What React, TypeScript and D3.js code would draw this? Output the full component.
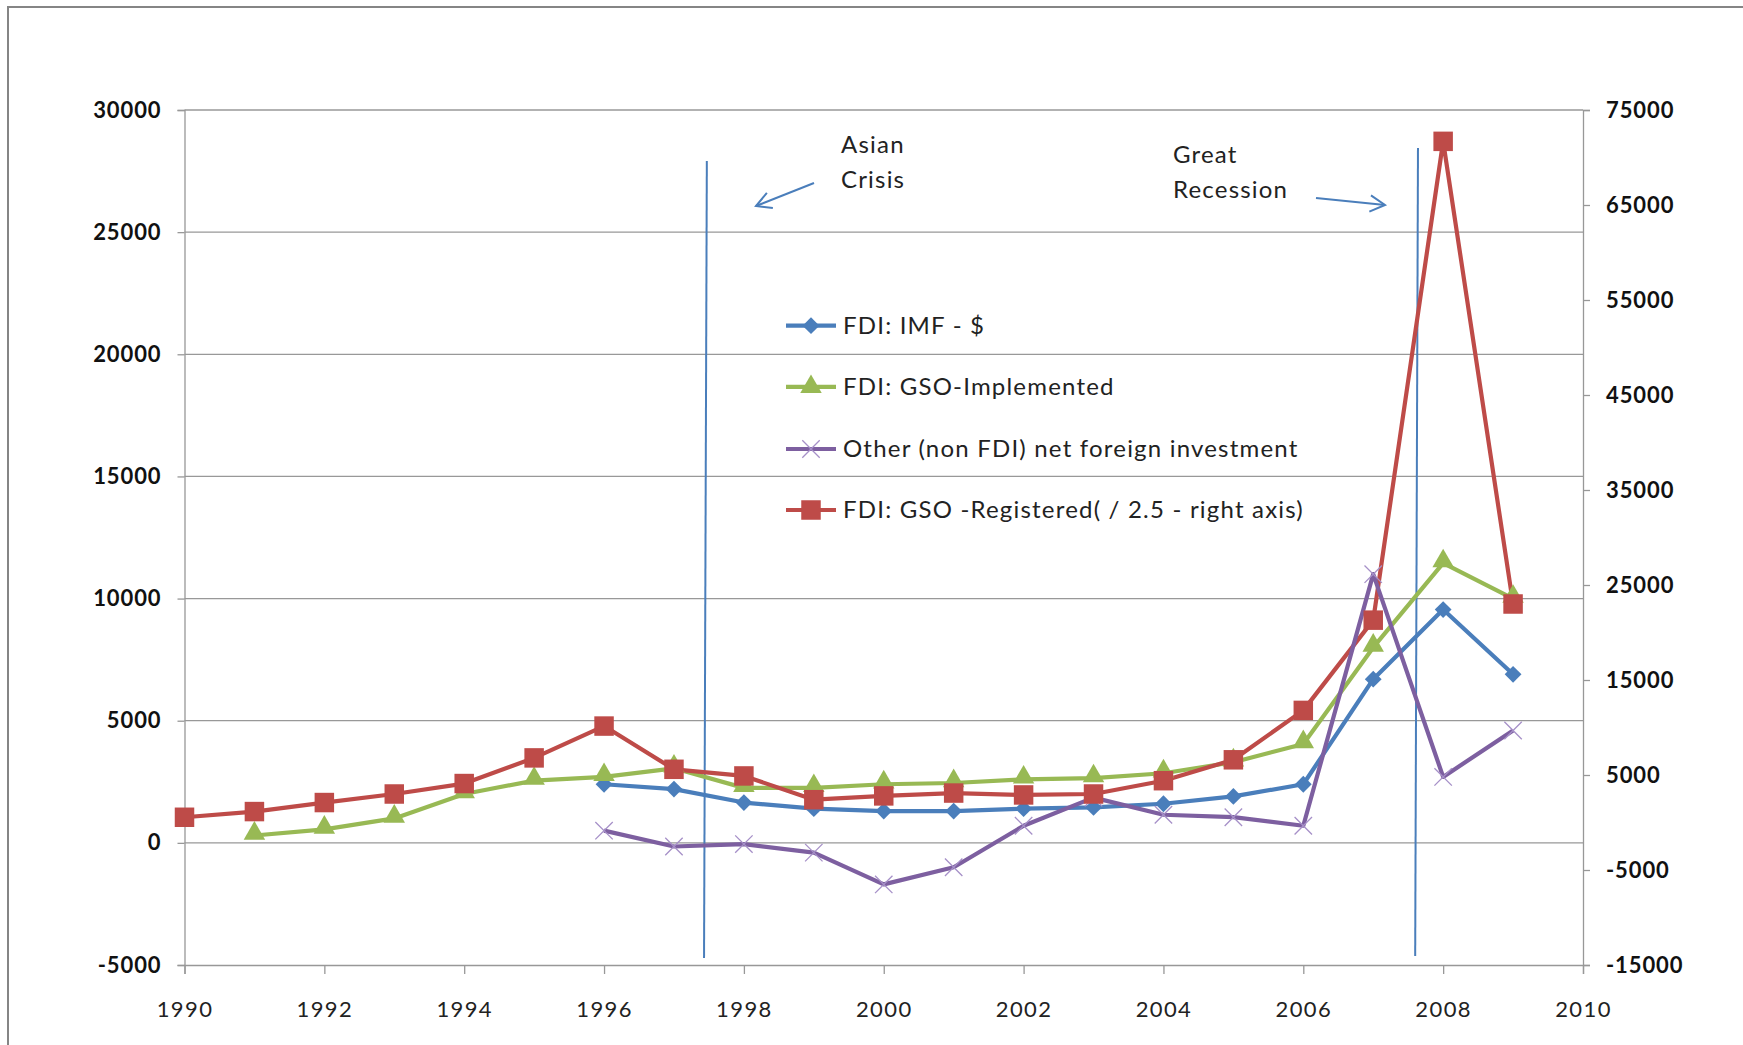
import React, { useEffect, useRef } from 'react'
import * as d3 from 'd3'

// years for each series
const yearsAll = d3.range(1990, 2010)
const imfYears = d3.range(1996, 2010)
const implYears = d3.range(1991, 2010)
const otherYears = d3.range(1996, 2010)

// FDI: IMF - $ (left axis)
const imfValues = [2400, 2200, 1650, 1400, 1300, 1300, 1400, 1450, 1600, 1900, 2400, 6700, 9550, 6900]
// FDI: GSO-Implemented (left axis)
const implValues = [300, 550, 1000, 2000, 2550, 2700, 3050, 2250, 2250, 2400, 2450, 2600, 2650, 2850, 3300, 4050, 8000, 11450, 10000]
// Other (non FDI) net foreign investment (left axis)
const otherValues = [500, -150, -50, -400, -1700, -1000, 700, 1850, 1150, 1050, 700, 11000, 2700, 4600]
// FDI: GSO -Registered (right axis)
const regValues = [550, 1150, 2100, 3000, 4100, 6800, 10150, 5600, 4900, 2400, 2800, 3100, 2900, 3000, 4400, 6600, 11800, 21300, 71700, 23000]

const leftTicks = [-5000, 0, 5000, 10000, 15000, 20000, 25000, 30000]
const rightTicks = [-15000, -5000, 5000, 15000, 25000, 35000, 45000, 55000, 65000, 75000]
const xTicks = [1990, 1992, 1994, 1996, 1998, 2000, 2002, 2004, 2006, 2008, 2010]

const legendLabels = ['FDI: IMF - $', 'FDI: GSO-Implemented', 'Other (non FDI) net foreign investment', 'FDI: GSO -Registered( / 2.5 - right axis)']

export default function App() {
  const ref = useRef<SVGSVGElement | null>(null)

  useEffect(() => {
    if (!ref.current) return
    const svg = d3.select(ref.current)
    svg.selectAll('*').remove()

    const width = 1743, height = 1045
    const left = 184.5, right = 1583, top = 110, bottom = 965
    const font = 'Lato, Carlito, Calibri, sans-serif'
    const fmt = (d: any) => String(d)

    const x = d3.scaleLinear().domain([1990, 2010]).range([left, right])
    const yL = d3.scaleLinear().domain([-5000, 30000]).range([bottom, top])
    const yR = d3.scaleLinear().domain([-15000, 75000]).range([bottom, top])

    svg.attr('width', width).attr('height', height)
    svg.append('rect').attr('width', width).attr('height', height).attr('fill', '#fff')
    // outer frame
    svg.append('rect').attr('x', 8).attr('y', 7).attr('width', width + 20).attr('height', height + 20)
      .attr('fill', 'none').attr('stroke', '#858585').attr('stroke-width', 2)

    // gridlines
    svg.append('g').selectAll('line').data(leftTicks.filter(t => t !== -5000)).enter().append('line')
      .attr('x1', left).attr('x2', right).attr('y1', d => yL(d)).attr('y2', d => yL(d))
      .attr('stroke', '#989898').attr('stroke-width', 1.3)

    // left axis
    const gl = svg.append('g').attr('transform', `translate(${left},0)`)
      .call(d3.axisLeft(yL).tickValues(leftTicks).tickSize(7).tickPadding(16).tickFormat(fmt))
    gl.select('.domain').attr('stroke', '#989898').attr('stroke-width', 1.3)
    gl.selectAll('.tick line').attr('stroke', '#989898').attr('stroke-width', 1.3)
    gl.selectAll('.tick text').attr('font-family', font).attr('font-size', 22).attr('font-weight', 'bold')
      .attr('letter-spacing', 0.9).attr('fill', '#111')

    // right axis
    const gr = svg.append('g').attr('transform', `translate(${right},0)`)
      .call(d3.axisRight(yR).tickValues(rightTicks).tickSize(7).tickPadding(16).tickFormat(fmt))
    gr.select('.domain').attr('stroke', '#989898').attr('stroke-width', 1.3)
    gr.selectAll('.tick line').attr('stroke', '#989898').attr('stroke-width', 1.3)
    gr.selectAll('.tick text').attr('font-family', font).attr('font-size', 22).attr('font-weight', 'bold')
      .attr('letter-spacing', 0.9).attr('fill', '#111')

    // bottom axis
    const gb = svg.append('g').attr('transform', `translate(0,${bottom})`)
      .call(d3.axisBottom(x).tickValues(xTicks).tickSize(9).tickPadding(27).tickFormat(fmt))
    gb.select('.domain').attr('stroke', '#989898').attr('stroke-width', 1.3)
    gb.selectAll('.tick line').attr('stroke', '#989898').attr('stroke-width', 1.3)
    gb.selectAll('.tick text').attr('font-family', font).attr('font-size', 22).attr('letter-spacing', 1.4).attr('fill', '#222')

    const blue = '#4A7EBB', green = '#98B954', purple = '#7D5FA0', red = '#BE4B48'

    const drawLine = (xs: number[], vs: number[], ys: d3.ScaleLinear<number, number>, color: string) => {
      const pts = xs.map((yr, i) => [x(yr), ys(vs[i])] as [number, number])
      svg.append('path').attr('d', d3.line()(pts)).attr('fill', 'none').attr('stroke', color)
        .attr('stroke-width', 4.2).attr('stroke-linejoin', 'round')
      return pts
    }

    const diamond = d3.symbol().type(d3.symbolDiamond2).size(180)
    const triangle = d3.symbol().type(d3.symbolTriangle).size(200)
    const square = d3.symbol().type(d3.symbolSquare).size(380)
    const cross = d3.symbol().type(d3.symbolX).size(200)

    const markers = (pts: [number, number][], path: string | null, fill: string, stroke?: string, sw = 0) => {
      svg.append('g').selectAll('path').data(pts).enter().append('path')
        .attr('d', path)
        .attr('transform', d => `translate(${d[0]},${d[1]})`)
        .attr('fill', stroke ? 'none' : fill)
        .attr('stroke', stroke || 'none').attr('stroke-width', sw)
    }

    // annotation vertical lines
    const annoColor = '#4A7EBB'
    svg.append('line').attr('x1', x(1997.47)).attr('y1', 161).attr('x2', x(1997.43)).attr('y2', 958)
      .attr('stroke', annoColor).attr('stroke-width', 2)
    svg.append('line').attr('x1', x(2007.64)).attr('y1', 148).attr('x2', x(2007.6)).attr('y2', 956)
      .attr('stroke', annoColor).attr('stroke-width', 2)

    const ptsI = drawLine(implYears, implValues, yL, green)
    const ptsB = drawLine(imfYears, imfValues, yL, blue)
    const ptsR = drawLine(yearsAll, regValues, yR, red)
    const ptsO = drawLine(otherYears, otherValues, yL, purple)

    markers(ptsB, diamond(), blue)
    markers(ptsI.map(p => [p[0], p[1] - 2] as [number, number]), triangle(), green)
    markers(ptsO, cross(), '', '#A690C8', 1.3)
    markers(ptsR, square(), red)

    // arrows
    const arrow = (x1: number, y1: number, x2: number, y2: number) => {
      svg.append('line').attr('x1', x1).attr('y1', y1).attr('x2', x2).attr('y2', y2)
        .attr('stroke', annoColor).attr('stroke-width', 2)
      const a = Math.atan2(y2 - y1, x2 - x1)
      const len = 17, spread = 0.5
      const p1 = [x2 - len * Math.cos(a - spread), y2 - len * Math.sin(a - spread)]
      const p2 = [x2 - len * Math.cos(a + spread), y2 - len * Math.sin(a + spread)]
      svg.append('path').attr('d', `M${p1[0]},${p1[1]}L${x2},${y2}L${p2[0]},${p2[1]}`)
        .attr('fill', 'none').attr('stroke', annoColor).attr('stroke-width', 2)
    }
    arrow(814, 183, 756, 206)
    arrow(1316, 198, 1385, 205)

    const annoText = (tx: number, ty: number, s: string) => {
      svg.append('text').attr('x', tx).attr('y', ty).attr('dy', '0.35em').text(s)
        .attr('font-family', font).attr('font-size', 24).attr('letter-spacing', 1.2).attr('fill', '#222')
    }
    annoText(841, 145, 'Asian')
    annoText(841, 180, 'Crisis')
    annoText(1173, 155, 'Great')
    annoText(1173, 190, 'Recession')

    // legend
    const legColors = [blue, green, purple, red]
    const legSyms = [diamond(), triangle(), cross(), square()]
    const legY = [325.7, 386.8, 449, 510]
    legendLabels.forEach((lab, i) => {
      const ly = legY[i]
      svg.append('line').attr('x1', 786).attr('x2', 836).attr('y1', ly).attr('y2', ly)
        .attr('stroke', legColors[i]).attr('stroke-width', 4.2)
      const sym = svg.append('path').attr('d', legSyms[i]).attr('transform', `translate(811,${ly})`)
      if (i === 2) sym.attr('fill', 'none').attr('stroke', '#A690C8').attr('stroke-width', 1.3)
      else sym.attr('fill', legColors[i])
      svg.append('text').attr('x', 843).attr('y', ly).attr('dy', '0.35em').text(lab)
        .attr('font-family', font).attr('font-size', 24).attr('letter-spacing', 1.2).attr('fill', '#222')
    })
  }, [])

  return <svg ref={ref} style={{ position: 'absolute', left: 0, top: 0 }} />
}
